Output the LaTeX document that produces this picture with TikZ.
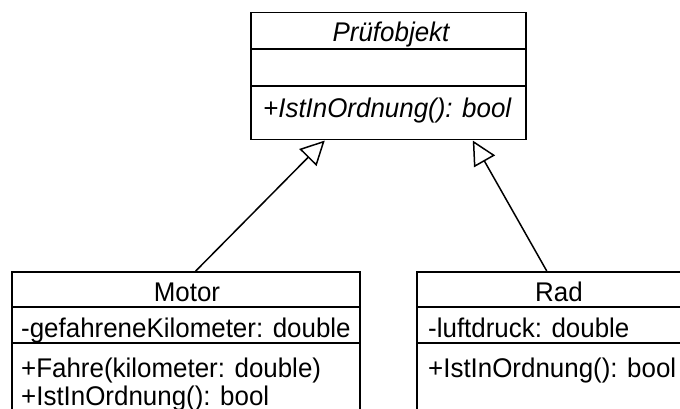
\documentclass[tikz,border=0pt]{standalone}
\usepackage{fontspec}
\setmainfont[FakeStretch=0.96]{Liberation Sans}
\usetikzlibrary{arrows.meta}
\begin{document}
\begin{tikzpicture}[x=1pt,y=-1pt,
  classbox/.style={draw, line width=1.5pt, anchor=north west, inner sep=0pt, minimum width=#1},
  txt/.style={inner sep=0pt, font=\fontsize{27}{28}\selectfont},
  inherit/.style={line width=1.5pt, -{Triangle[open, length=24pt, width=24pt, line width=1.5pt]}}]
\useasboundingbox (0,0) rectangle (680,409);
\clip (0,0) rectangle (680,409);
% class boxes
\node[classbox=275, minimum height=127] (pruef) at (250,12) {};
\node[classbox=348, minimum height=160] (motor) at (11,271) {};
\node[classbox=290, minimum height=160] (rad) at (416,271) {};
% compartment separators
\draw[line width=1.5pt] ([yshift=-37pt]pruef.north west) -- ([yshift=-37pt]pruef.north east);
\draw[line width=1.5pt] ([yshift=-74pt]pruef.north west) -- ([yshift=-74pt]pruef.north east);
\draw[line width=1.5pt] ([yshift=-36pt]motor.north west) -- ([yshift=-36pt]motor.north east);
\draw[line width=1.5pt] ([yshift=-72pt]motor.north west) -- ([yshift=-72pt]motor.north east);
\draw[line width=1.5pt] ([yshift=-36pt]rad.north west) -- ([yshift=-36pt]rad.north east);
\draw[line width=1.5pt] ([yshift=-72pt]rad.north west) -- ([yshift=-72pt]rad.north east);
% texts
\node[txt, anchor=base] (pname) at (391,42) {\itshape Prüfobjekt};
\node[txt, anchor=base west] (pop) at (263,118) {\itshape +IstInOrdnung(): bool};
\node[txt, anchor=base] (mname) at (187,301) {Motor};
\node[txt, anchor=base west] (mattr) at (21,337) {-gefahreneKilometer: double};
\node[txt, anchor=base west] (mop1) at (21,377) {+Fahre(kilometer: double)};
\node[txt, anchor=base west] (mop2) at (21,405) {+IstInOrdnung(): bool};
\node[txt, anchor=base] (rname) at (559,301) {Rad};
\node[txt, anchor=base west] (rattr) at (428,337) {-luftdruck: double};
\node[txt, anchor=base west] (rop) at (428,377) {+IstInOrdnung(): bool};
% connector end points on the box borders
\coordinate (mtop) at ([xshift=10pt]motor.north);
\coordinate (rtop) at ([xshift=-15pt]rad.north);
\coordinate (pl) at ([xshift=-63.5pt]pruef.south);
\coordinate (pr) at ([xshift=84.5pt]pruef.south);
\draw[inherit] (mtop) -- (pl);
\draw[inherit] (rtop) -- (pr);
\end{tikzpicture}
\end{document}
